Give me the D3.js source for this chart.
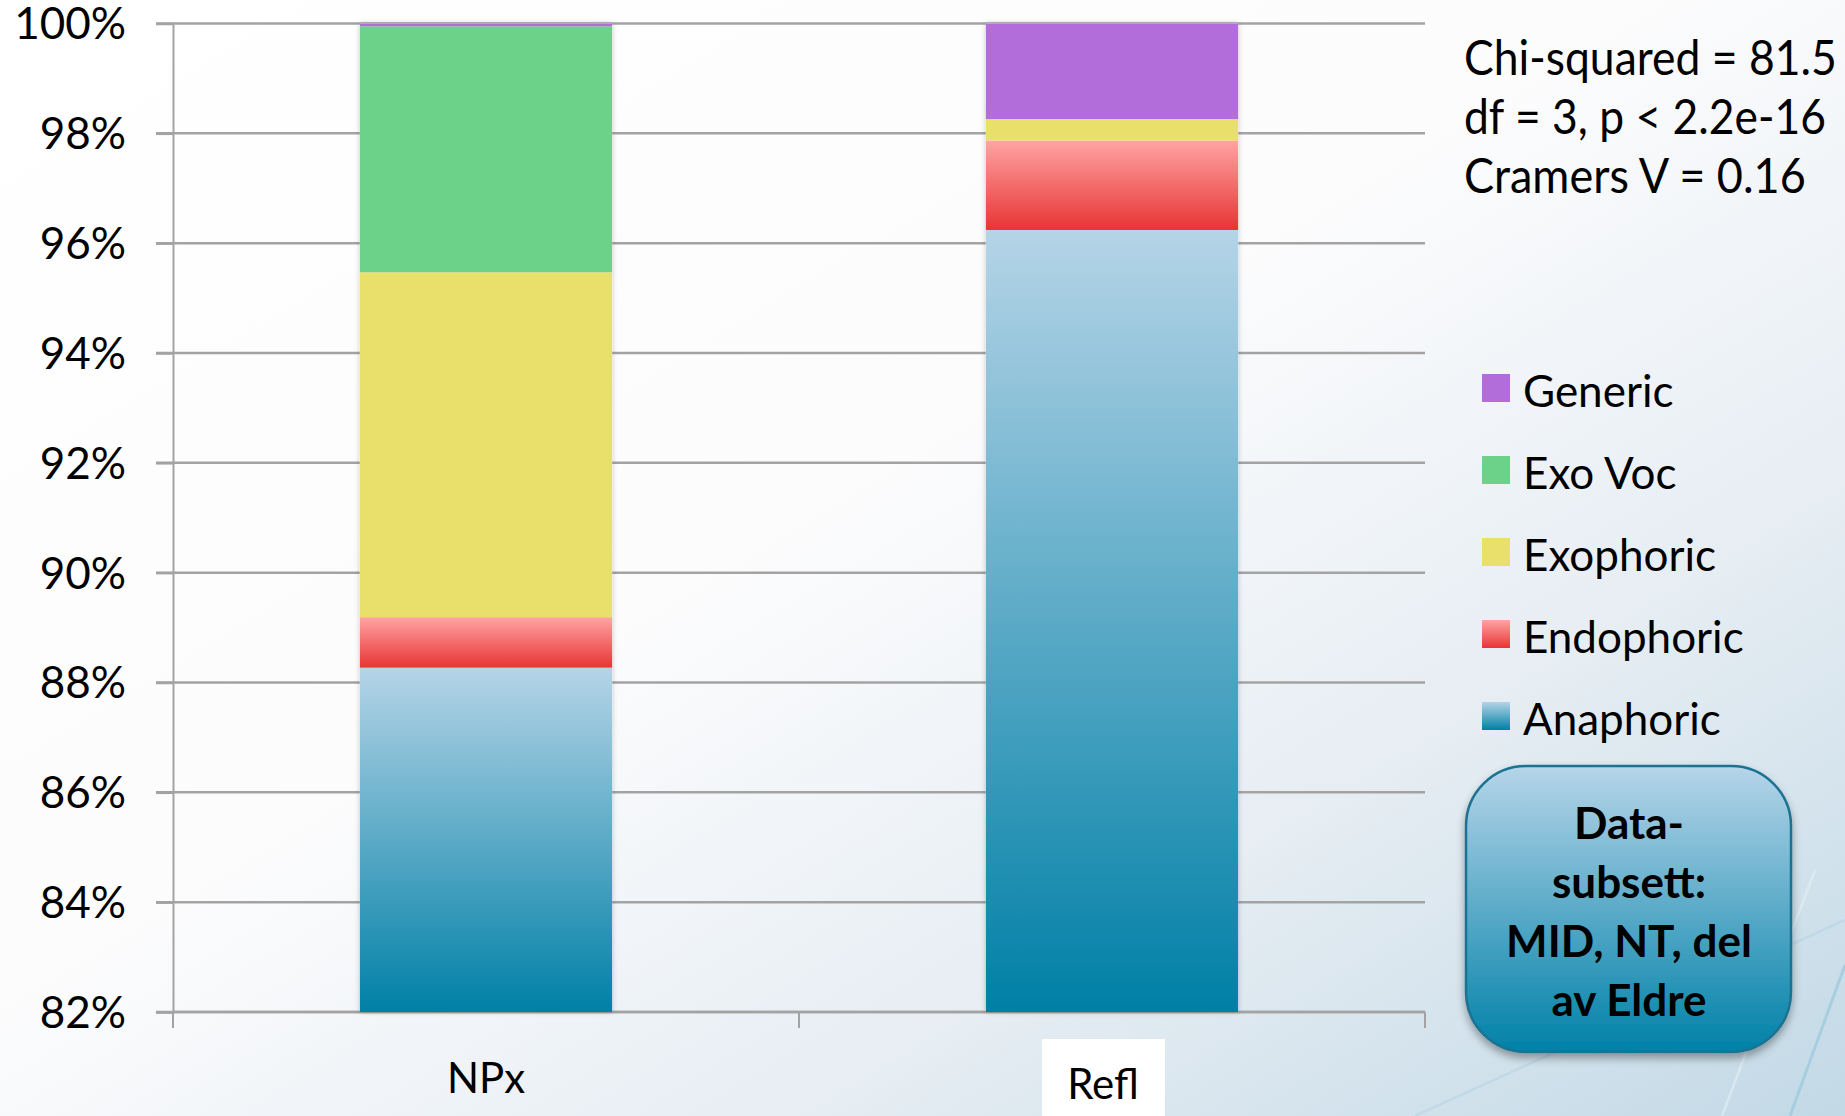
<!DOCTYPE html>
<html>
<head>
<meta charset="utf-8">
<script src="https://cdn.jsdelivr.net/npm/d3@7"></script>
<style>
  html, body { margin: 0; padding: 0; background: #fff; }
  svg { display: block; font-family: Lato, "Open Sans", sans-serif; }
</style>
</head>
<body>
<svg id="chart" width="1845" height="1116"></svg>
<script>
// ---------- data ----------
const categories = ["NPx", "Refl"];
const seriesNames = ["Anaphoric", "Endophoric", "Exophoric", "Exo Voc", "Generic"];
const anaphoric  = [88.27, 96.24];
const endophoric = [0.92, 1.63];
const exophoric  = [6.28, 0.39];
const exoVoc     = [4.48, 0.00];
const generic    = [0.05, 1.74];
const yTicks = [82, 84, 86, 88, 90, 92, 94, 96, 98, 100];
const legendOrder = ["Generic", "Exo Voc", "Exophoric", "Endophoric", "Anaphoric"];
const statsLines = ["Chi-squared = 81.5", "df = 3, p < 2.2e-16", "Cramers V = 0.16"];
const boxLines = ["Data-", "subsett:", "MID, NT, del", "av Eldre"];

// ---------- setup ----------
const W = 1845, H = 1116;
const svg = d3.select("#chart");
const defs = svg.append("defs");

// background gradient (slide)
const bg = defs.append("linearGradient").attr("id", "bg")
  .attr("x1", "0").attr("y1", "0").attr("x2", "1").attr("y2", "1");
bg.append("stop").attr("offset", "0%").attr("stop-color", "#ffffff");
bg.append("stop").attr("offset", "45%").attr("stop-color", "#fcfcfd");
bg.append("stop").attr("offset", "72%").attr("stop-color", "#e6edf3");
bg.append("stop").attr("offset", "100%").attr("stop-color", "#c2d9e6");

function vGrad(id, c1, c2) {
  const g = defs.append("linearGradient").attr("id", id)
    .attr("x1", "0").attr("y1", "0").attr("x2", "0").attr("y2", "1");
  g.append("stop").attr("offset", "0%").attr("stop-color", c1);
  g.append("stop").attr("offset", "100%").attr("stop-color", c2);
}
vGrad("gAna", "#b5d4e7", "#0080a6");
vGrad("gEndo", "#ffa4a4", "#e83434");
vGrad("gBox", "#b6d5e9", "#0081a8");

const shadow = defs.append("filter").attr("id", "shadow")
  .attr("x", "-10%").attr("y", "-10%").attr("width", "120%").attr("height", "120%");
shadow.append("feDropShadow").attr("dx", 0).attr("dy", 0).attr("stdDeviation", 2.5)
  .attr("flood-color", "#000").attr("flood-opacity", 0.25);

const boxShadow = defs.append("filter").attr("id", "boxShadow")
  .attr("x", "-10%").attr("y", "-10%").attr("width", "120%").attr("height", "125%");
boxShadow.append("feDropShadow").attr("dx", 0).attr("dy", 5).attr("stdDeviation", 4)
  .attr("flood-color", "#000").attr("flood-opacity", 0.35);

const colors = {
  "Anaphoric": "url(#gAna)",
  "Endophoric": "url(#gEndo)",
  "Exophoric": "#e9df6b",
  "Exo Voc": "#6cd28a",
  "Generic": "#b36ddb"
};

svg.append("rect").attr("width", W).attr("height", H).attr("fill", "url(#bg)");

// decorative slide lines
const deco = [
  { p: [[1790, 1116], [1845, 965]], w: 3, o: 0.9, c: "#a4cde0" },
  { p: [[1722, 1116], [1815, 870]], w: 2.5, o: 0.55, c: "#e8f1f6" },
  { p: [[1415, 1116], [1845, 920]], w: 2.5, o: 0.6, c: "#b6d5e4" }
];
svg.append("g").selectAll("line").data(deco).join("line")
  .attr("x1", d => d.p[0][0]).attr("y1", d => d.p[0][1])
  .attr("x2", d => d.p[1][0]).attr("y2", d => d.p[1][1])
  .attr("stroke", d => d.c).attr("stroke-width", d => d.w)
  .attr("opacity", d => d.o);

// ---------- scales ----------
const x = d3.scaleBand().domain(categories).range([173, 1425]).padding(0);
const y = d3.scaleLinear().domain([82, 100]).range([1012, 23.5]).clamp(true);
const barW = x.bandwidth() * 0.403;

// gridlines
svg.append("g").selectAll("line").data(yTicks).join("line")
  .attr("x1", 156).attr("x2", 1425)
  .attr("y1", d => y(d)).attr("y2", d => y(d))
  .attr("stroke", "#a3a3a3").attr("stroke-width", 2.5);

// y axis
const yAxis = svg.append("g").attr("transform", "translate(173,0)")
  .call(d3.axisLeft(y).tickValues(yTicks).tickFormat(d => d + "%").tickSize(17).tickPadding(30));
yAxis.select(".domain").attr("stroke", "#a3a3a3").attr("stroke-width", 2);
yAxis.selectAll(".tick line").attr("stroke", "#a3a3a3").attr("stroke-width", 2.5);
yAxis.selectAll("text").attr("font-size", 44).attr("fill", "#000")
  .attr("font-family", "Lato, sans-serif").attr("dy", "0.35em");

// x axis
const xAxisG = svg.append("g").attr("transform", "translate(0,1012)");
xAxisG.append("line").attr("x1", 173).attr("x2", 1425).attr("y1", 0).attr("y2", 0)
  .attr("stroke", "#a3a3a3").attr("stroke-width", 2.5);
const xTickPos = [x.range()[0], ...categories.map(c => x(c) + x.bandwidth())];
xAxisG.selectAll("line.t").data(xTickPos).join("line").attr("class", "t")
  .attr("x1", d => d).attr("x2", d => d).attr("y1", 0).attr("y2", 16)
  .attr("stroke", "#a3a3a3").attr("stroke-width", 2);

// ---------- stacked bars ----------
const table = categories.map((c, i) => ({
  cat: c,
  "Anaphoric": anaphoric[i],
  "Endophoric": endophoric[i],
  "Exophoric": exophoric[i],
  "Exo Voc": exoVoc[i],
  "Generic": generic[i]
}));
const stacked = d3.stack().keys(seriesNames)(table);

const barsG = svg.append("g");
barsG.selectAll("rect.base").data(table).join("rect").attr("class", "base")
  .attr("x", d => x(d.cat) + (x.bandwidth() - barW) / 2)
  .attr("width", barW)
  .attr("y", y(100)).attr("height", y(82) - y(100))
  .attr("fill", "#fff").attr("filter", "url(#shadow)");

barsG.selectAll("g.s").data(stacked).join("g").attr("class", "s")
  .attr("fill", d => colors[d.key])
  .selectAll("rect").data(d => d.map((v, i) => ({ v, cat: categories[i] })))
  .join("rect")
  .attr("x", d => x(d.cat) + (x.bandwidth() - barW) / 2)
  .attr("width", barW)
  .attr("y", d => y(d.v[1]))
  .attr("height", d => Math.max(0, y(d.v[0]) - y(d.v[1])));

// white patch behind Refl label
const reflC = x("Refl") + x.bandwidth() / 2;
svg.append("rect").attr("x", reflC - 70).attr("y", 1039).attr("width", 123).attr("height", 77)
  .attr("fill", "#fff");

// category labels
svg.append("g").selectAll("text").data(categories).join("text")
  .attr("x", d => x(d) + x.bandwidth() / 2 + (d === "Refl" ? -9 : 0))
  .attr("y", d => d === "Refl" ? 1099 : 1093)
  .attr("text-anchor", "middle").attr("font-size", 42).attr("fill", "#000")
  .text(d => d);

// ---------- stats text (narrowed to match the condensed original face) ----------
const statsWidths = [373, 362, 342];
svg.append("g").selectAll("text").data(statsLines).join("text")
  .attr("font-size", 49).attr("fill", "#000")
  .text(d => d)
  .each(function (d, i) {
    const natural = this.getComputedTextLength();
    const sx = statsWidths[i] / natural;
    d3.select(this).attr("transform", `translate(1464,${75 + i * 59}) scale(${sx},1)`);
  });

// ---------- legend ----------
const lg = svg.append("g").selectAll("g").data(legendOrder).join("g")
  .attr("transform", (d, i) => `translate(1482,${374 + i * 82})`);
lg.append("rect").attr("width", 28).attr("height", 28).attr("fill", d => colors[d]);
lg.append("text").attr("x", 41).attr("y", 33).attr("font-size", 44).attr("fill", "#000")
  .text(d => d);

// ---------- box ----------
svg.append("rect").attr("x", 1466).attr("y", 766).attr("width", 325).attr("height", 286)
  .attr("rx", 60).attr("ry", 60)
  .attr("fill", "url(#gBox)").attr("stroke", "#1b7391").attr("stroke-width", 2.5)
  .attr("filter", "url(#boxShadow)");
svg.append("g").selectAll("text").data(boxLines).join("text")
  .attr("x", 1629).attr("y", (d, i) => 839 + i * 59)
  .attr("text-anchor", "middle").attr("font-size", 44).attr("font-weight", "bold")
  .attr("fill", "#000").text(d => d);
</script>
</body>
</html>
